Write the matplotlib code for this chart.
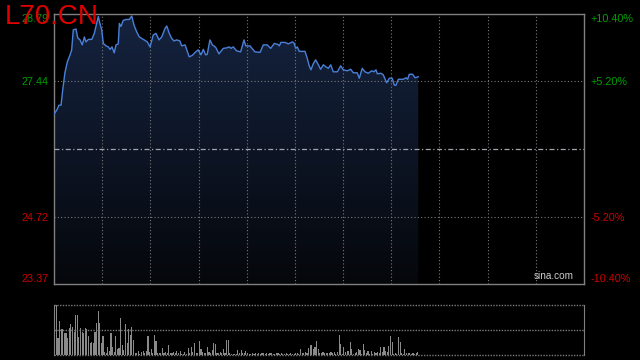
import numpy as np
import matplotlib
matplotlib.use("Agg")
import matplotlib.pyplot as plt
from matplotlib.colors import LinearSegmentedColormap

# ---------------- data ----------------
title = "L70.CN"
prev_close = 26.08
price_ticks = [28.79, 27.44, 24.72, 23.37]
price_tick_colors = ["#00a000", "#00a000", "#cc0000", "#cc0000"]
pct_labels = ["+10.40%", "+5.20%", "-5.20%", "-10.40%"]
session_minutes = 330
grid_step = 30

minutes = [0, 1.7, 3.1, 4.4, 5.4, 6.8, 8.3, 10.0, 11.0, 12.0,
           13.7, 14.8, 16.2, 17.6, 18.9, 19.9, 21.4, 23.5, 25.1, 26.1,
           27.6, 28.6, 29.7, 30.7, 32.4, 33.8, 34.9, 36.1, 37.5, 38.6,
           40.0, 40.7, 41.7, 43.1, 44.8, 46.9, 48.4, 49.8, 51.5, 53.1,
           54.6, 56.0, 58.1, 59.8, 61.8, 63.5, 65.4, 67.1, 69.1, 70.2,
           71.8, 73.3, 74.7, 76.4, 78.4, 79.5, 81.6, 84.2, 86.1, 88.2,
           89.8, 91.5, 93.0, 94.4, 95.4, 97.1, 98.6, 100.7, 102.7, 105.4,
           107.5, 109.1, 110.2, 111.6, 113.7, 116.2, 118.3, 119.4, 122.0, 125.1,
           128.3, 130.3, 132.8, 134.9, 137.2, 139.3, 140.3, 141.3, 143.8, 145.9,
           148.4, 149.4, 150.5, 151.5, 152.7, 156.3, 157.7, 158.9, 160.0, 161.4,
           162.9, 164.6, 166.0, 167.7, 169.3, 170.8, 172.3, 173.9, 176.4, 178.5,
           180.1, 182.6, 184.7, 186.4, 188.8, 190.1, 191.9, 193.6, 195.7, 197.8,
           199.2, 200.5, 201.3, 203.6, 205.0, 207.1, 208.8, 210.6, 211.9, 212.9,
           214.4, 217.5, 219.2, 220.2, 221.2, 223.3, 224.8, 226.8]

prices = [26.78, 26.86, 26.96, 26.96, 27.26, 27.61, 27.83, 27.97, 28.07, 28.47,
          28.49, 28.31, 28.27, 28.17, 28.33, 28.23, 28.28, 28.28, 28.40, 28.54,
          28.74, 28.60, 28.47, 28.20, 28.15, 28.13, 28.08, 28.13, 28.01, 28.17,
          28.19, 28.60, 28.54, 28.66, 28.68, 28.68, 28.75, 28.57, 28.43, 28.33,
          28.30, 28.27, 28.23, 28.13, 28.37, 28.40, 28.27, 28.33, 28.50, 28.55,
          28.40, 28.30, 28.25, 28.27, 28.25, 28.15, 28.17, 27.93, 27.96, 28.03,
          28.07, 27.97, 28.08, 27.97, 27.98, 28.27, 28.17, 28.12, 27.99, 28.10,
          28.11, 28.13, 28.10, 28.13, 28.05, 28.03, 28.27, 28.15, 28.15, 28.03,
          28.02, 28.17, 28.17, 28.10, 28.20, 28.18, 28.15, 28.22, 28.22, 28.19,
          28.23, 28.21, 28.10, 28.13, 28.04, 28.04, 27.90, 27.75, 27.67, 27.79,
          27.87, 27.77, 27.68, 27.77, 27.73, 27.70, 27.77, 27.63, 27.63, 27.75,
          27.67, 27.65, 27.68, 27.61, 27.61, 27.50, 27.70, 27.63, 27.60, 27.65,
          27.63, 27.67, 27.59, 27.60, 27.57, 27.41, 27.50, 27.50, 27.36, 27.36,
          27.48, 27.48, 27.51, 27.48, 27.58, 27.58, 27.51, 27.53]

volumes = [40, 51, 17, 34, 26, 26, 22, 22, 17, 27, 31, 28, 23, 40, 40, 18, 27, 23, 22, 27,
           26, 19, 12, 13, 12, 23, 32, 44, 32, 12, 19, 3, 2, 8, 4, 22, 8, 3, 19, 6,
           7, 37, 10, 5, 31, 12, 26, 20, 28, 15, 2, 2, 4, 1, 3, 4, 2, 4,
           19, 3, 6, 2, 20, 14, 2, 2, 2, 7, 2, 3, 2, 10, 2, 2, 3, 2, 4, 2,
           4, 1, 1, 3, 1, 7, 2, 8, 3, 12, 2, 2, 14, 6, 3, 2, 2, 8, 3, 2,
           5, 12, 11, 2, 2, 3, 2, 6, 2, 15, 15, 2, 1, 1, 1, 1, 5, 2, 5,
           2, 2, 4, 2, 1, 1, 2, 1, 2, 1, 2, 1, 2, 2, 1, 2, 1, 2, 2, 1,
           1, 2, 2, 1, 2, 1, 1, 2, 1, 1, 2, 1, 1, 2, 2, 1, 6, 2, 2, 3,
           2, 7, 10, 10, 6, 8, 14, 6, 2, 2, 3, 2, 2, 2, 2, 3, 2,
           3, 1, 3, 20, 11, 1, 8, 3, 4, 4, 13, 6, 1, 2, 3, 6, 5, 1, 11, 5,
           2, 4, 1, 4, 1, 3, 2, 3, 2, 8, 3, 8, 4, 3, 9, 19, 13, 1, 2, 1,
           18, 13, 2, 1, 6, 2, 2, 2, 1, 2, 1, 2, 3]
volume_max = 50

# ---------------- style ----------------
plt.rcParams["font.family"] = ["Liberation Sans", "DejaVu Sans"]
W, H = 640, 360
fig = plt.figure(figsize=(W / 100, H / 100), dpi=100, facecolor="black")

def rect(l, t, r, b):
    return [l / W, 1 - b / H, (r - l) / W, (b - t) / H]

spine_col = "#808080"
grid_col = "#7a7a7a"
ymin, ymax = min(price_ticks), max(price_ticks)

ax = fig.add_axes(rect(54, 14, 584, 284))
ax.set_facecolor("black")
ax.set_xlim(0, session_minutes)
ax.set_ylim(ymin, ymax)

for s in ax.spines.values():
    s.set_color(spine_col)
    s.set_linewidth(1)

# vertical grid
for xv in range(grid_step, session_minutes, grid_step):
    ax.axvline(xv, color=grid_col, lw=0.8, ls=(0, (1, 2)), zorder=3)
# horizontal grid
for yv in price_ticks[1:3]:
    ax.axhline(yv, color=grid_col, lw=0.8, ls=(0, (1, 2)), zorder=3)
ax.axhline(prev_close, color="#a0a4ac", lw=0.9, ls=(0, (4, 2, 1, 2)), zorder=3)

# gradient fill under the line
poly = ax.fill_between(minutes, prices, ymin, facecolor="none", edgecolor="none")
cmap = LinearSegmentedColormap.from_list("g", ["#05070b", "#15233f"])
grad = np.linspace(0, 1, 256).reshape(-1, 1)
im = ax.imshow(grad, extent=[0, session_minutes, ymin, ymax], origin="lower",
               aspect="auto", cmap=cmap, zorder=1)
im.set_clip_path(poly.get_paths()[0], transform=ax.transData)
ax.plot(minutes, prices, color="#4a80d8", lw=1.0, zorder=4)

# left tick labels
ax.set_xticks([])
ax.set_yticks(price_ticks)
ax.set_yticklabels([f"{v:.2f}" for v in price_ticks])
ax.tick_params(axis="y", length=0, pad=4, labelsize=7.8)
for lbl, c in zip(ax.get_yticklabels(), price_tick_colors):
    lbl.set_color(c)
ylab = ax.get_yticklabels()
ylab[0].set_va("top")
ylab[-1].set_va("bottom")

# right percentage labels
ax2 = ax.twinx()
ax2.set_ylim(ymin, ymax)
ax2.set_yticks(price_ticks)
ax2.set_yticklabels(pct_labels)
ax2.tick_params(axis="y", length=0, pad=5, labelsize=7.8)
for lbl, c in zip(ax2.get_yticklabels(), price_tick_colors):
    lbl.set_color(c)
rlab = ax2.get_yticklabels()
rlab[0].set_va("top")
rlab[-1].set_va("bottom")
for s in ax2.spines.values():
    s.set_visible(False)

ax.text(0.98, 0.012, "sina.com", transform=ax.transAxes, ha="right", va="bottom",
        color="#cccccc", fontsize=7.2, zorder=5)

fig.text(5 / W, 1 - 4 / H, title, color="#e00000", fontsize=20, ha="left", va="top")

# volume panel
axv = fig.add_axes(rect(54, 305, 584, 355))
axv.set_facecolor("black")
axv.set_xlim(0, session_minutes)
axv.set_ylim(0, volume_max)
vx = np.arange(len(volumes)) + 0.5
axv.bar(vx, volumes, width=0.7, color="#8a8a8a", zorder=2)
axv.set_xticks([])
axv.set_yticks([])
for side in ["left", "right"]:
    axv.spines[side].set_color(spine_col)
for side in ["top", "bottom"]:
    axv.spines[side].set_visible(False)
for yv in [0, volume_max / 2, volume_max]:
    axv.axhline(yv, color=grid_col, lw=1.0, ls=(0, (1, 1)), zorder=3, clip_on=False)

fig.savefig("out.png", dpi=100, facecolor="black")
